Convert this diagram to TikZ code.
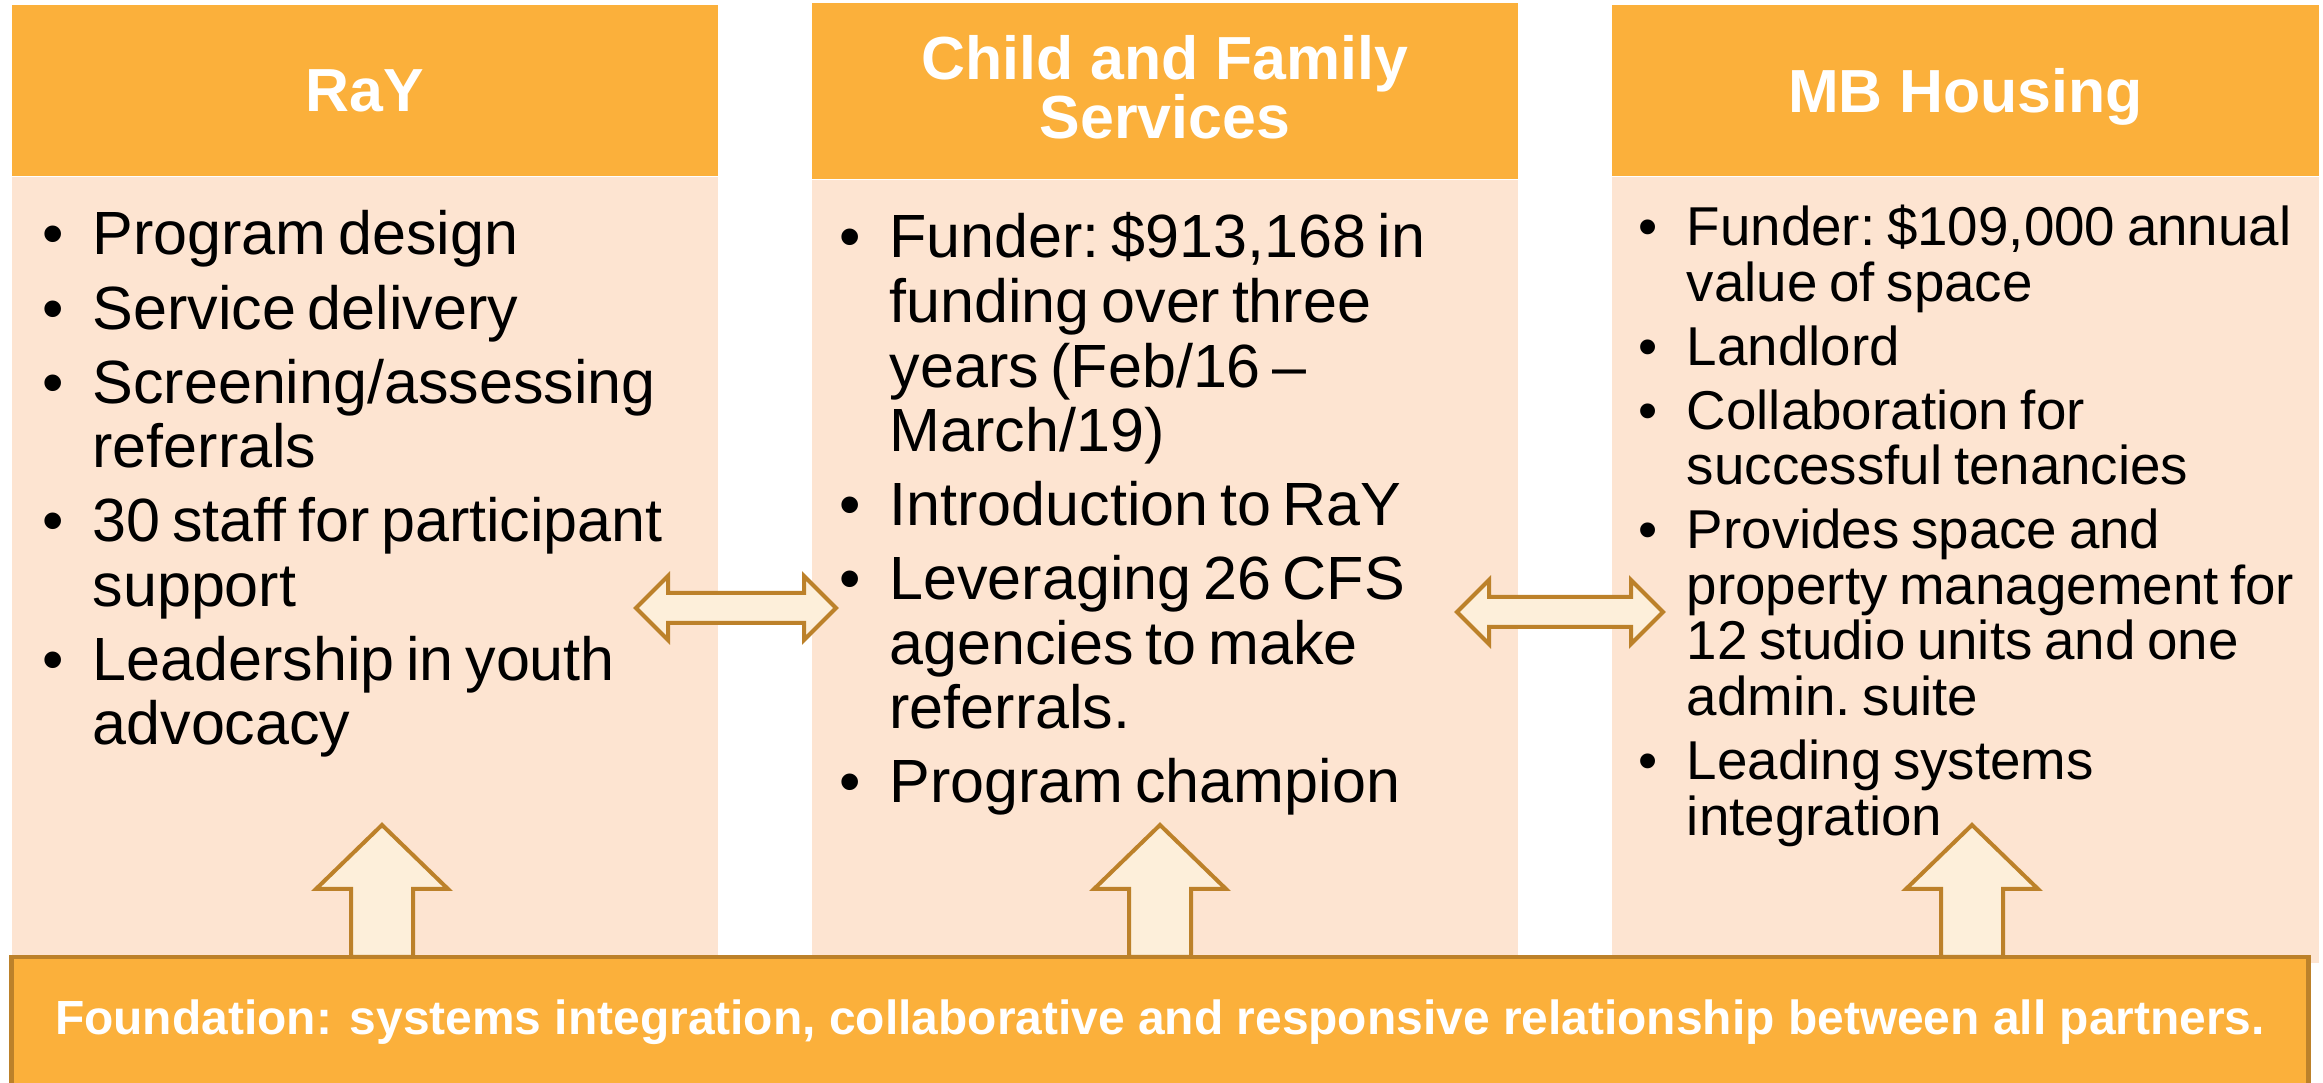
\documentclass[tikz,border=0pt]{standalone}
\usepackage{fontspec}
\setmainfont{Liberation Sans}
\definecolor{headorange}{RGB}{251,176,59}
\definecolor{panelpeach}{RGB}{253,228,209}
\definecolor{arrowline}{RGB}{188,129,42}
\definecolor{arrowfill}{RGB}{253,239,218}
\newlength{\bhang}
\newcommand{\bstart}{\hangindent=\bhang\hangafter=1\noindent\makebox[\bhang][l]{\textbullet}}
\newcommand{\bitem}{\par\bstart}
\newcommand{\bigtext}{\fontsize{17.36}{18.35}\selectfont\frenchspacing\setlength{\bhang}{14.2pt}\setlength{\parskip}{2.7pt}}
\newcommand{\smalltext}{\fontsize{15.56}{15.79}\selectfont\frenchspacing\setlength{\bhang}{13.7pt}\setlength{\parskip}{2.4pt}}
\tikzset{
  /tikz/.cd,
  header/.style={fill=headorange,text=white,inner sep=0pt,minimum width=7.06cm,
                 font=\bfseries\fontsize{17.3}{16.8}\selectfont,align=center},
  panel/.style={fill=panelpeach,inner sep=0pt,minimum width=7.06cm,minimum height=7.85cm,anchor=north},
  bullets/.style={anchor=base west,inner sep=0pt,text width=6.8cm,align=left},
  blockarrow/.style={draw=arrowline,fill=arrowfill,line width=0.04cm,line join=miter},
  upblock/.pic={\draw[blockarrow] (-31,0) -- (-31,-68) -- (-66,-68) -- (0,-132)
                  -- (66,-68) -- (31,-68) -- (31,0) -- cycle;},
  twinblock/.pic={\draw[blockarrow] (-#1,0) -- (-#1+32,-32) -- (-#1+32,-15) -- (#1-32,-15)
                  -- (#1-32,-32) -- (#1,0) -- (#1-32,32) -- (#1-32,15) -- (-#1+32,15)
                  -- (-#1+32,32) -- cycle;}
}

\begin{document}
\begin{tikzpicture}[x=0.01cm,y=-0.01cm,
                    base/.style={fill=headorange,draw=arrowline,line width=0.045cm,inner sep=0pt,
                                 minimum width=22.96cm,minimum height=1.30cm,text=white,
                                 font=\bfseries\fontsize{13.63}{16}\selectfont}]
      \useasboundingbox (0,0) rectangle (2323,1083);
      \fill[white] (0,0) rectangle (2323,1083);

      % three partners
      \node[header,minimum height=1.71cm,text depth=0pt] (rayHead) at (365,90.5) {RaY};
      \node[header,minimum height=1.76cm,text depth=2.3pt] (cfsHead) at (1165,91) {Child and Family\\Services};
      \node[header,minimum height=1.71cm,text depth=0pt] (mbhHead) at (1965.5,90.5) {MB Housing};

      \node[panel] (rayPanel) at (rayHead.south) {};
      \node[panel] (cfsPanel) at (cfsHead.south) {};
      \node[panel] (mbhPanel) at (mbhHead.south) {};

      \node[bullets] (rayList) at (42,255) {\bigtext
        \bstart Program design
        \bitem Service delivery
        \bitem Screening/assessing\newline referrals
        \bitem 30 staff for participant\newline support
        \bitem Leadership in youth\newline advocacy\par};
      \node[bullets] (cfsList) at (839,258) {\bigtext
        \bstart Funder: \$913,168 in\newline funding over three\newline years (Feb/16 –\newline March/19)
        \bitem Introduction to RaY
        \bitem Leveraging 26 CFS\newline agencies to make\newline referrals.
        \bitem Program champion\par};
      \node[bullets] (mbhList) at (1638,246) {\smalltext
        \bstart Funder: \$109,000 annual\newline value of space
        \bitem Landlord
        \bitem Collaboration for\newline successful tenancies
        \bitem Provides space and\newline property management for\newline 12 studio units and one\newline admin. suite
        \bitem Leading systems\newline integration\par};

      % links between partners
      \coordinate (rayCfs) at (736,608);
      \coordinate (cfsMbh) at (1560,612);
      \pic at (rayCfs) {twinblock=100};
      \pic at (cfsMbh) {twinblock=103};

      % foundation underneath
      \coordinate (rayFoot) at (382,957);
      \coordinate (cfsFoot) at (1160,957);
      \coordinate (mbhFoot) at (1972,957);
      \pic at (rayFoot) {upblock};
      \pic at (cfsFoot) {upblock};
      \pic at (mbhFoot) {upblock};

      \node[base] (foundation) at (1160,1022) {Foundation: systems integration, collaborative and responsive relationship between all partners.};
    \end{tikzpicture}
\end{document}
